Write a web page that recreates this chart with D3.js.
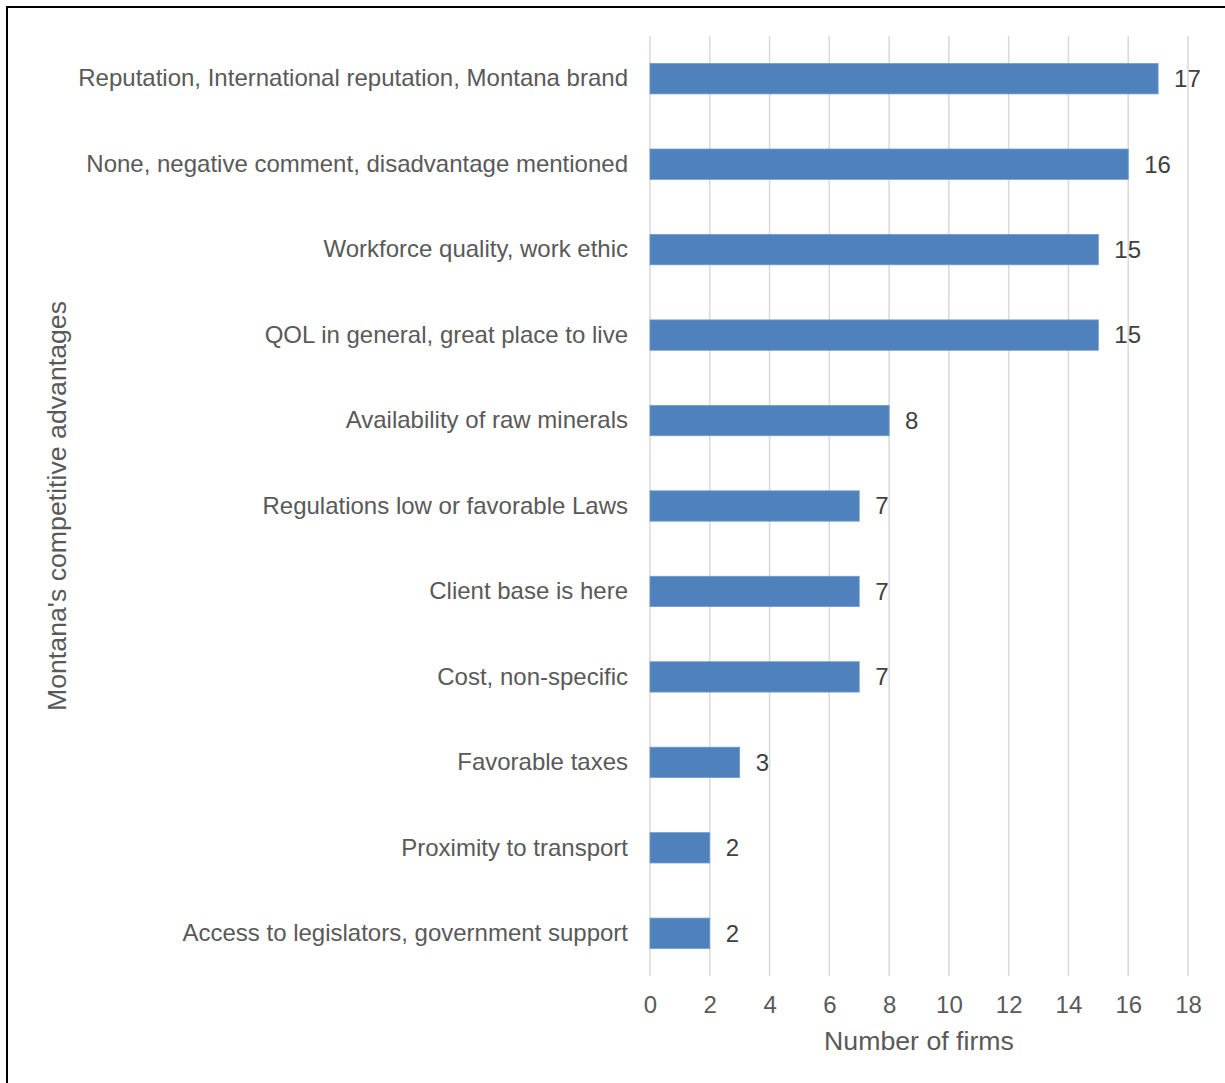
<!DOCTYPE html>
<html>
<head>
<meta charset="utf-8">
<script src="https://cdn.jsdelivr.net/npm/d3@7"></script>
<style>
  html, body { margin: 0; padding: 0; background: #fff; }
  svg { display: block; font-family: "Liberation Sans", Arial, sans-serif; }
</style>
</head>
<body>
<script>
// Survey responses: Montana's competitive advantages, number of firms
const categories = [
  "Reputation, International reputation, Montana brand",
  "None, negative comment, disadvantage mentioned",
  "Workforce quality, work ethic",
  "QOL in general, great place to live",
  "Availability of raw minerals",
  "Regulations low or favorable Laws",
  "Client base is here",
  "Cost, non-specific",
  "Favorable taxes",
  "Proximity to transport",
  "Access to legislators, government support"
];
const firms = [17, 16, 15, 15, 8, 7, 7, 7, 3, 2, 2];
const xTicks = [0, 2, 4, 6, 8, 10, 12, 14, 16, 18];
const xTitle = "Number of firms";
const yTitle = "Montana's competitive advantages";

const W = 1225, H = 1083;
const plot = { left: 650, right: 1188, top: 36, bottom: 976 };

const svg = d3.select("body").append("svg")
  .attr("width", W).attr("height", H);

svg.append("rect").attr("width", W).attr("height", H).attr("fill", "#fff");

// frame (left and top edges)
svg.append("path")
  .attr("d", `M7,${H} V7 H${W}`)
  .attr("fill", "none").attr("stroke", "#000").attr("stroke-width", 2);

const x = d3.scaleLinear().domain([0, 18]).range([plot.left, plot.right]);
const y = d3.scaleBand().domain(categories).range([plot.top, plot.bottom])
  .paddingInner(0.645).paddingOuter(0.3225);

// vertical gridlines
svg.append("g").selectAll("line").data(xTicks).join("line")
  .attr("x1", d => x(d)).attr("x2", d => x(d))
  .attr("y1", plot.top).attr("y2", plot.bottom)
  .attr("stroke", "#d9d9d9").attr("stroke-width", 1.5);

// bars
svg.append("g").selectAll("rect").data(firms).join("rect")
  .attr("x", x(0))
  .attr("y", (d, i) => y(categories[i]))
  .attr("width", d => x(d) - x(0))
  .attr("height", y.bandwidth())
  .attr("fill", "#4f81bd")
  .attr("stroke", "#6f9ad0").attr("stroke-width", 0.8);

// value labels
svg.append("g").selectAll("text").data(firms).join("text")
  .attr("x", d => x(d) + 16)
  .attr("y", (d, i) => y(categories[i]) + y.bandwidth() / 2)
  .attr("dy", "0.35em")
  .attr("font-size", 24).attr("fill", "#404040")
  .text(d => d);

// category axis labels
const yAxis = d3.axisLeft(y).tickSize(0).tickPadding(22);
const gy = svg.append("g").attr("transform", `translate(${plot.left},0)`).call(yAxis);
gy.select(".domain").remove();
gy.selectAll("text")
  .attr("font-size", 24).attr("fill", "#595959")
  .attr("font-family", "Liberation Sans, Arial, sans-serif");

// value axis
const xAxis = d3.axisBottom(x).tickValues(xTicks).tickSize(0).tickPadding(20);
const gx = svg.append("g").attr("transform", `translate(0,${plot.bottom})`).call(xAxis);
gx.select(".domain").remove();
gx.selectAll("text")
  .attr("font-size", 24).attr("fill", "#595959")
  .attr("font-family", "Liberation Sans, Arial, sans-serif");

// axis titles
svg.append("text")
  .attr("x", (plot.left + plot.right) / 2).attr("y", 1050)
  .attr("text-anchor", "middle")
  .attr("font-size", 26.7).attr("fill", "#595959")
  .text(xTitle);

svg.append("text")
  .attr("transform", `translate(66,${(plot.top + plot.bottom) / 2}) rotate(-90)`)
  .attr("text-anchor", "middle")
  .attr("font-size", 26.7).attr("fill", "#595959")
  .text(yTitle);
</script>
</body>
</html>
